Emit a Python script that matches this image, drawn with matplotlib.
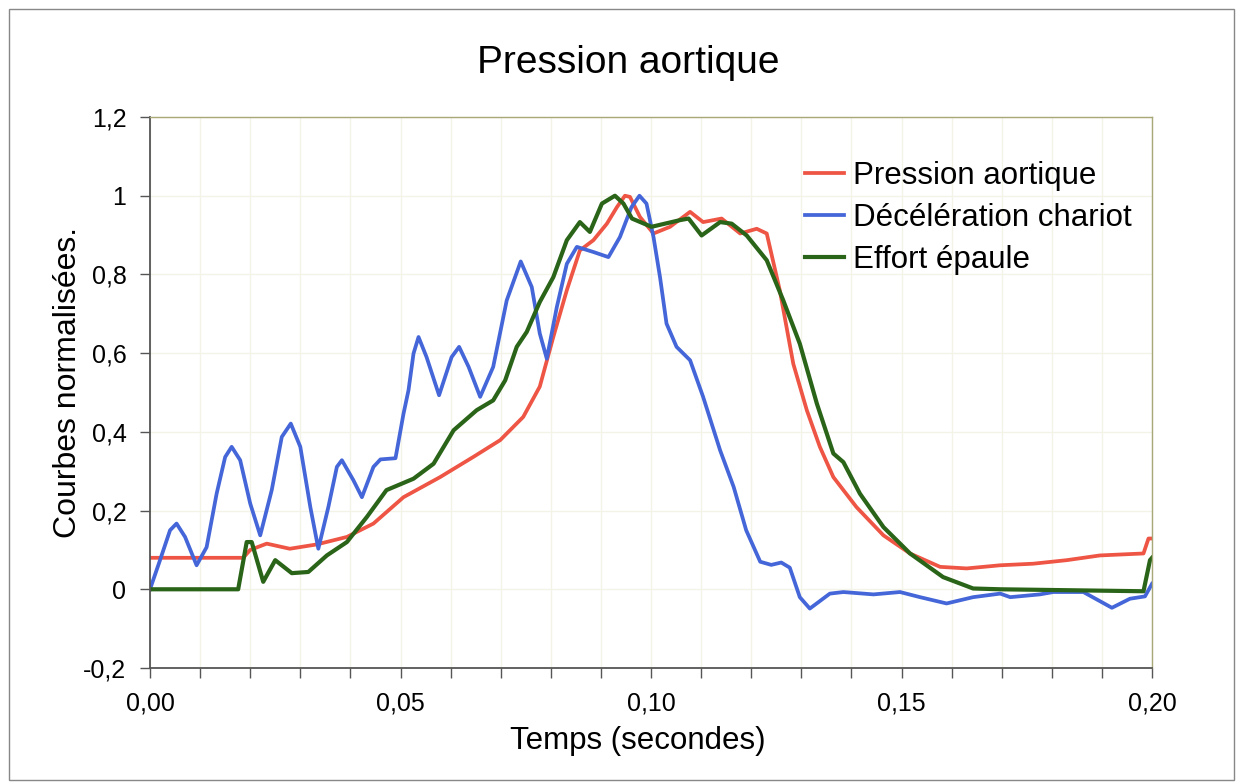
import matplotlib
matplotlib.use('Agg')
import matplotlib.pyplot as plt
from matplotlib.patches import Rectangle
import numpy as np

plt.rcParams['font.family'] = ['Liberation Sans', 'DejaVu Sans']

title = 'Pression aortique'
xlabel = 'Temps (secondes)'
ylabel = 'Courbes normalisées.'
series_names = ['Pression aortique', 'Décélération chariot', 'Effort épaule']

xtick_vals = [0.00, 0.05, 0.10, 0.15, 0.20]
xtick_labels = ['0,00', '0,05', '0,10', '0,15', '0,20']
ytick_vals = [-0.2, 0.0, 0.2, 0.4, 0.6, 0.8, 1.0, 1.2]
ytick_labels = ['-0,2', '0', '0,2', '0,4', '0,6', '0,8', '1', '1,2']

# pression aortique
t_red = [0, 0.0186, 0.02, 0.0233, 0.0279, 0.0333, 0.0393, 0.0446, 0.0506, 0.0579,
         0.0645, 0.0699, 0.0745, 0.0778, 0.0805, 0.0832, 0.0858, 0.0885, 0.0912, 0.0932,
         0.0948, 0.0958, 0.0978, 0.1005, 0.1038, 0.1078, 0.1104, 0.1141, 0.1178, 0.1211,
         0.1231, 0.1257, 0.1284, 0.1311, 0.1337, 0.1364, 0.141, 0.1464, 0.1517, 0.1577,
         0.163, 0.1697, 0.1763, 0.183, 0.1896, 0.1983, 0.1993, 0.2]
v_red = [0.08, 0.08, 0.1, 0.116, 0.103, 0.114, 0.133, 0.167, 0.234, 0.285,
         0.336, 0.379, 0.438, 0.515, 0.641, 0.76, 0.861, 0.887, 0.929, 0.971,
         1.0, 0.997, 0.946, 0.904, 0.921, 0.959, 0.933, 0.942, 0.904, 0.916,
         0.904, 0.76, 0.573, 0.455, 0.362, 0.285, 0.209, 0.137, 0.091, 0.057,
         0.053, 0.061, 0.065, 0.074, 0.086, 0.091, 0.129, 0.129]

# deceleration chariot
t_blue = [0.0, 0.002, 0.004, 0.0053, 0.007, 0.0093, 0.0113, 0.0133, 0.015, 0.0163,
          0.018, 0.02, 0.022, 0.0243, 0.0263, 0.0281, 0.03, 0.032, 0.0336, 0.0356,
          0.0373, 0.0383, 0.0406, 0.0423, 0.0446, 0.046, 0.049, 0.0506, 0.0516, 0.0526,
          0.0536, 0.0552, 0.0577, 0.0602, 0.0617, 0.0636, 0.0659, 0.0685, 0.0712, 0.074,
          0.0762, 0.0778, 0.0792, 0.0812, 0.0832, 0.0852, 0.0885, 0.0915, 0.0938, 0.0961,
          0.0977, 0.0991, 0.1005, 0.1018, 0.1031, 0.1051, 0.1078, 0.1104, 0.1138, 0.1165,
          0.119, 0.1218, 0.124, 0.126, 0.1277, 0.1297, 0.1317, 0.1357, 0.1384, 0.1444,
          0.1497, 0.1537, 0.159, 0.1643, 0.1697, 0.1717, 0.1776, 0.1803, 0.1863, 0.192,
          0.1956, 0.1986, 0.2]
v_blue = [0.0, 0.074, 0.15, 0.167, 0.133, 0.061, 0.107, 0.243, 0.336, 0.362,
          0.328, 0.218, 0.137, 0.252, 0.387, 0.421, 0.362, 0.209, 0.103, 0.209,
          0.311, 0.328, 0.277, 0.234, 0.311, 0.33, 0.333, 0.446, 0.506, 0.599,
          0.641, 0.59, 0.493, 0.59, 0.616, 0.565, 0.489, 0.565, 0.734, 0.833,
          0.768, 0.65, 0.586, 0.717, 0.827, 0.870, 0.857, 0.844, 0.895, 0.971,
          1.0, 0.98, 0.895, 0.793, 0.675, 0.616, 0.582, 0.489, 0.353, 0.26,
          0.15, 0.07, 0.062, 0.068, 0.055, -0.02, -0.049, -0.011, -0.007, -0.013,
          -0.007, -0.02, -0.036, -0.02, -0.011, -0.02, -0.013, -0.007, -0.007, -0.047,
          -0.024, -0.018, 0.014]

# effort epaule
t_green = [0, 0.0176, 0.0193, 0.0203, 0.0226, 0.025, 0.0283, 0.0316, 0.0353, 0.0393,
           0.0433, 0.0472, 0.0526, 0.0566, 0.0606, 0.0652, 0.0685, 0.0709, 0.0732, 0.0752,
           0.0778, 0.0805, 0.0832, 0.0858, 0.0878, 0.0902, 0.0928, 0.0945, 0.0962, 0.1001,
           0.1058, 0.1075, 0.1101, 0.1138, 0.1161, 0.1191, 0.1231, 0.1264, 0.1297, 0.1331,
           0.1364, 0.1384, 0.1417, 0.1464, 0.1517, 0.1583, 0.1643, 0.1697, 0.1983, 0.1996, 0.2]
v_green = [0, 0, 0.12, 0.12, 0.019, 0.074, 0.041, 0.044, 0.086, 0.12,
           0.184, 0.252, 0.281, 0.319, 0.404, 0.455, 0.48, 0.531, 0.616, 0.654,
           0.73, 0.793, 0.887, 0.933, 0.908, 0.98, 1.0, 0.98, 0.942, 0.921,
           0.938, 0.942, 0.899, 0.933, 0.929, 0.899, 0.836, 0.734, 0.624, 0.472,
           0.345, 0.323, 0.243, 0.158, 0.091, 0.031, 0.002, 0.0, -0.005, 0.074, 0.08]

W, H = 1237, 783
fig = plt.figure(figsize=(W / 100, H / 100), dpi=100)
ax = fig.add_axes([150 / W, 1 - 668 / H, 1002 / W, 551 / H])

ax.plot(t_red, v_red, color='#ee5544', lw=2.7, label=series_names[0])
ax.plot(t_blue, v_blue, color='#4466d8', lw=2.7, label=series_names[1])
ax.plot(t_green, v_green, color='#2a6418', lw=3.0, label=series_names[2])

ax.set_xlim(0, 0.2)
ax.set_ylim(-0.2, 1.2)
minor = np.round(np.arange(0, 0.2001, 0.01), 2)
ax.set_xticks(minor)
ax.set_xticklabels([xtick_labels[xtick_vals.index(v)] if v in xtick_vals else '' for v in minor])
ax.set_yticks(ytick_vals)
ax.set_yticklabels(ytick_labels)
ax.tick_params(direction='out', length=7, width=1, color='#555555', labelsize=18, pad=10)
ax.grid(True, color='#f3f3e8', lw=1)

for s in ['left', 'bottom']:
    ax.spines[s].set_color('#555555')
    ax.spines[s].set_linewidth(1.3)
for s in ['top', 'right']:
    ax.spines[s].set_color('#a8a878')
    ax.spines[s].set_linewidth(1)

ax.set_xlabel(xlabel, fontsize=22.5)
ax.xaxis.set_label_coords((638 - 150) / 1002, (668 - 726) / 551)
ax.set_ylabel(ylabel, fontsize=23)
ax.yaxis.set_label_coords((83 - 150) / 1002, (668 - 382) / 551)
fig.text(628 / W, 1 - 73 / H, title, fontsize=28, ha='center', va='baseline')

ax.legend(loc='upper left', bbox_to_anchor=(805 / W, 1 - 161 / H), bbox_transform=fig.transFigure,
          frameon=False, fontsize=22.5, handlelength=1.25, handletextpad=0.3,
          labelspacing=0.38, borderaxespad=0, borderpad=0)

fig.patches.append(Rectangle((9 / W, 3 / H), 1 - 12 / W, 1 - 12 / H, transform=fig.transFigure,
                             fill=False, edgecolor='#888888', lw=1))

fig.savefig('out.png', dpi=100)
